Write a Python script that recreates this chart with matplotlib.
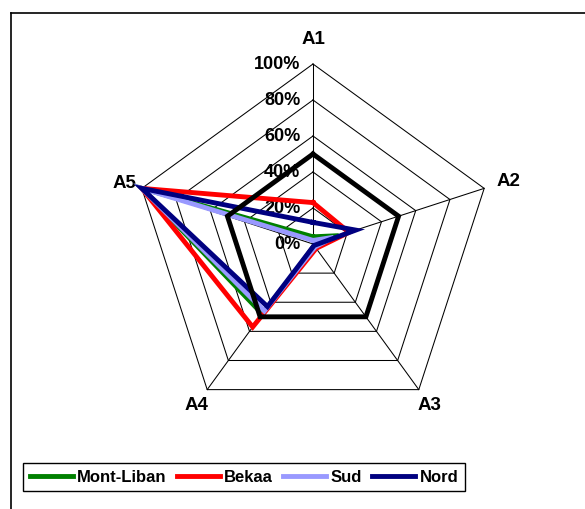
import numpy as np
import matplotlib
matplotlib.use("Agg")
import matplotlib.pyplot as plt
from matplotlib.lines import Line2D

plt.rcParams["font.family"] = ["Liberation Sans", "DejaVu Sans"]

# axes and data (fractions, 0..1)
axis_labels = ["A1", "A2", "A3", "A4", "A5"]
series_names = ["Mont-Liban", "Bekaa", "Sud", "Nord"]
mont_liban = [0.04, 0.15, 0.02, 0.48, 1.00]
bekaa = [0.23, 0.21, 0.03, 0.57, 1.00]
sud = [0.02, 0.12, 0.02, 0.46, 1.00]
nord = [0.12, 0.25, 0.01, 0.43, 1.00]
reference = [0.50, 0.50, 0.50, 0.50, 0.50]
tick_values = [0.0, 0.2, 0.4, 0.6, 0.8, 1.0]
tick_labels = ["0%", "20%", "40%", "60%", "80%", "100%"]

colors = ["#008000", "#ff0000", "#9999ff", "#000080"]

W, H, dpi = 585, 510, 100
cx, cy, R = 313, 245, 180  # centre and radius in pixels

n = len(axis_labels)
angles = np.deg2rad(90 - 72 * np.arange(n))


def to_xy(vals):
    v = np.asarray(vals, dtype=float)
    v = np.append(v, v[0])
    a = np.append(angles, angles[0])
    return v * np.cos(a), v * np.sin(a)


fig = plt.figure(figsize=(W / dpi, H / dpi), dpi=dpi)
ax = fig.add_axes([0, 0, 1, 1])
ax.set_xlim(-cx / R, (W - cx) / R)
ax.set_ylim((cy - H) / R, cy / R)
ax.axis("off")

# polygon grid + spokes
for t in tick_values[1:]:
    gx, gy = to_xy([t] * n)
    ax.plot(gx, gy, color="black", lw=0.75, zorder=1)
for a in angles:
    ax.plot([0, np.cos(a)], [0, np.sin(a)], color="black", lw=0.75, zorder=1)

# tick labels along A1
for t, lab in zip(tick_values, tick_labels):
    ax.text(-0.07, t, lab, ha="right", va="center", fontsize=13,
            fontweight="bold", zorder=2)

# axis labels
for a, lab in zip(angles, axis_labels):
    r = 1.14 if lab in ("A1", "A2") else 1.10
    ax.text(r * np.cos(a), r * np.sin(a), lab, ha="center", va="center",
            fontsize=13.5, fontweight="bold")

# series
for name, vals, c in zip(series_names, [mont_liban, bekaa, sud, nord], colors):
    sx, sy = to_xy(vals)
    ax.plot(sx, sy, color=c, lw=3.5, solid_joinstyle="miter", zorder=3)

rx, ry = to_xy(reference)
ax.plot(rx, ry, color="black", lw=3.5, solid_joinstyle="miter", zorder=4)

# legend
handles = [Line2D([], [], color=c, lw=3.5) for c in colors]
leg = fig.legend(handles, series_names, loc="center", ncol=4,
                 bbox_to_anchor=(244 / W, 1 - 478 / H),
                 prop={"weight": "bold", "size": 12},
                 handlelength=2.6, handletextpad=0.25, columnspacing=0.6,
                 fancybox=False, framealpha=1, borderpad=0.4)
leg.get_frame().set_edgecolor("black")
leg.get_frame().set_linewidth(1.0)

# outer frame (top and left visible)
fig.add_artist(Line2D([11 / W, 1], [1 - 14 / H, 1 - 14 / H],
                      color="black", lw=1.2, transform=fig.transFigure))
fig.add_artist(Line2D([11 / W, 11 / W], [0, 1 - 14 / H],
                      color="black", lw=1.2, transform=fig.transFigure))

fig.savefig("out.png", dpi=dpi)
